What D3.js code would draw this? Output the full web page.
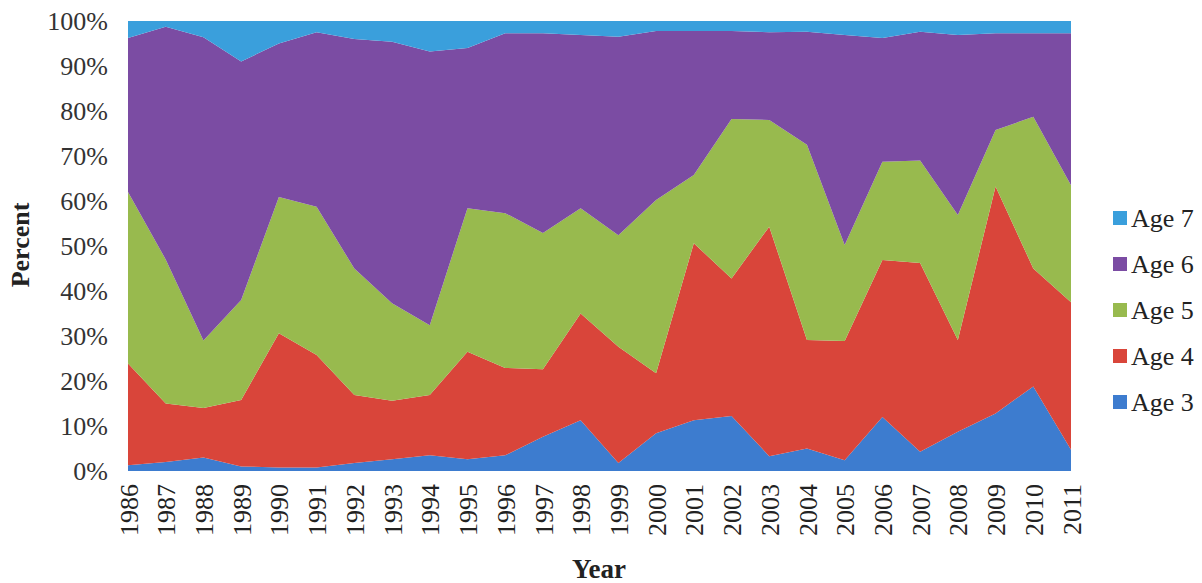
<!DOCTYPE html>
<html><head><meta charset="utf-8">
<script src="https://cdn.jsdelivr.net/npm/d3@7"></script>
<style>body{margin:0;background:#fff}svg{display:block}</style>
</head><body><svg id="c" width="1202" height="583"></svg>
<script>
const years = [1986,1987,1988,1989,1990,1991,1992,1993,1994,1995,1996,1997,1998,1999,2000,2001,2002,2003,2004,2005,2006,2007,2008,2009,2010,2011];
const age3 = [1.3,2,3,1,0.8,0.8,1.8,2.6,3.5,2.6,3.5,7.6,11.3,1.8,8.4,11.3,12.2,3.3,5,2.4,12,4.3,8.7,12.8,18.8,4.7];
const age4 = [22.6,13,11,14.8,29.8,25,15.1,13,13.4,23.9,19.4,15,23.7,25.8,13.3,39.3,30.6,51,24.1,26.5,34.9,41.9,20.4,50.4,26.2,32.8];
const age5 = [38.1,32,15,22.2,30.3,32.9,28.1,21.7,15.5,31.9,34.4,30.3,23.4,24.8,38.5,15.2,35.4,23.7,43.4,21.3,21.8,22.8,27.8,12.6,33.7,26];
const age6 = [34.2,51.7,67.4,53,34.1,38.8,51,58.1,60.8,35.6,40,44.4,38.5,44.1,37.6,32,19.6,19.5,25.1,46.7,27.5,28.6,40,21.5,18.6,33.8];
const age7 = [3.8,1.3,3.6,9,5,2.5,4,4.6,6.8,6,2.7,2.7,3.1,3.5,2.2,2.2,2.2,2.5,2.4,3.1,3.8,2.4,3.1,2.7,2.7,2.7];
const seriesNames = ["Age 3","Age 4","Age 5","Age 6","Age 7"];
const seriesColors = ["#3d7ccf","#d9453a","#98ba4e","#7b4ca3","#3a9fdc"];
const yTicks = [0,10,20,30,40,50,60,70,80,90,100];

const rows = years.map((y,i)=>({year:y,"Age 3":age3[i],"Age 4":age4[i],"Age 5":age5[i],"Age 6":age6[i],"Age 7":age7[i]}));
const stack = d3.stack().keys(seriesNames).offset(d3.stackOffsetExpand);
const layers = stack(rows);

const L=128,R=1071,T=21,B=471;
const svg = d3.select("#c");
const x = d3.scaleLinear().domain([1986,2011]).range([L,R]);
const y = d3.scaleLinear().domain([0,1]).range([B,T]);

const area = d3.area().x(d=>x(d.data.year)).y0(d=>y(d[0])).y1(d=>y(d[1]));
svg.append("g").selectAll("path").data(layers).join("path")
  .attr("d",area).attr("fill",(d,i)=>seriesColors[i]);

const font = "Liberation Serif, serif";
// y axis
const yAxis = d3.axisLeft(y).tickValues(yTicks.map(v=>v/100)).tickFormat(d=>Math.round(d*100)+"%").tickSize(0).tickPadding(20);
const ga = svg.append("g").attr("transform",`translate(${L},0)`).call(yAxis);
ga.select(".domain").remove();
ga.selectAll("text").attr("font-family",font).attr("font-size",26).attr("fill","#333");

// x axis
const xAxis = d3.axisBottom(x).tickValues(years).tickFormat(d3.format("d")).tickSize(0).tickPadding(0);
const gx = svg.append("g").attr("transform",`translate(0,${B})`).call(xAxis);
gx.select(".domain").remove();
gx.selectAll("text").attr("font-family",font).attr("font-size",26).attr("fill","#222")
  .attr("transform","rotate(-90)").attr("text-anchor","end").attr("x",-13).attr("y",0).attr("dy","0.35em").attr("dx",0);

svg.append("text").attr("x",599).attr("y",578).attr("text-anchor","middle")
  .attr("font-family",font).attr("font-size",27).attr("font-weight","bold").attr("fill","#222").text("Year");
svg.append("text").attr("transform","translate(29,245) rotate(-90)").attr("text-anchor","middle")
  .attr("font-family",font).attr("font-size",26).attr("font-weight","bold").attr("fill","#222").text("Percent");

// legend
const legendOrder = [4,3,2,1,0];
const lg = svg.append("g");
legendOrder.forEach((si,k)=>{
  const yy = 218 + k*46;
  lg.append("rect").attr("x",1113).attr("y",yy-7).attr("width",14).attr("height",14).attr("fill",seriesColors[si]);
  lg.append("text").attr("x",1131).attr("y",yy).attr("dy","0.35em").attr("font-family",font).attr("font-size",26).attr("fill","#222").text(seriesNames[si]);
});
</script></body></html>
